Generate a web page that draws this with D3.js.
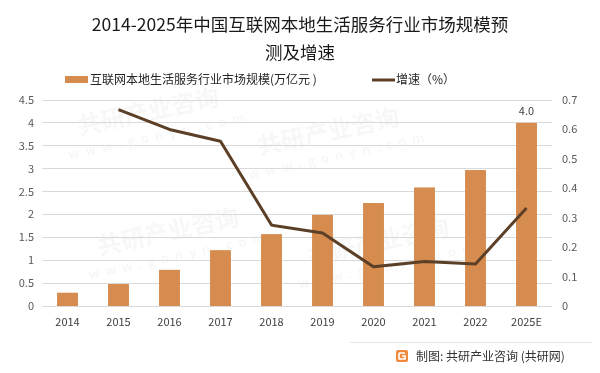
<!DOCTYPE html>
<html><head><meta charset="utf-8">
<script src="https://cdn.jsdelivr.net/npm/d3@7"></script>
<style>body{margin:0;background:#fff}svg{display:block}</style>
</head><body><div id="c"></div>
<script>
const categories = ["2014","2015","2016","2017","2018","2019","2020","2021","2022","2025E"];
const marketSize = [0.29,0.48,0.79,1.22,1.57,1.99,2.25,2.59,2.97,4.0];
const growth = [null,0.667,0.60,0.56,0.275,0.248,0.133,0.151,0.143,0.333];
const leftTicks = [0,0.5,1,1.5,2,2.5,3,3.5,4,4.5];
const rightTicks = [0,0.1,0.2,0.3,0.4,0.5,0.6,0.7];
const titleLines = ["2014-2025年中国互联网本地生活服务行业市场规模预","测及增速"];
const legendLabels = ["互联网本地生活服务行业市场规模(万亿元 )","增速（%）"];
const sourceText = "制图: 共研产业咨询 (共研网)";

const W=600,H=373;
const font='"Noto Sans CJK SC","Noto Sans",sans-serif';
const svg=d3.select("#c").append("svg").attr("width",W).attr("height",H).style("font-family",font);
svg.append("rect").attr("width",W).attr("height",H).attr("fill","#fff");

// watermarks (faint)
const wm=svg.append("g").attr("fill","#000").attr("opacity",0.035).style("font-weight","bold");
[[150,120],[330,140],[170,240],[380,250]].forEach(([x,y])=>{
  wm.append("text").attr("transform",`translate(${x},${y}) rotate(-12)`).attr("text-anchor","middle").attr("font-size",24).text("共研产业咨询");
  wm.append("text").attr("transform",`translate(${x+10},${y+20}) rotate(-12)`).attr("text-anchor","middle").attr("font-size",13).attr("letter-spacing","6px").text("www.gonyn.com");
});

const x=d3.scaleBand().domain(categories).range([42,552]).paddingInner(0.59).paddingOuter(0.295);
const yL=d3.scaleLinear().domain([0,4.5]).range([306,100]);
const yR=d3.scaleLinear().domain([0,0.7]).range([306,100]);

// gridlines
svg.append("g").selectAll("line").data(leftTicks).join("line")
  .attr("x1",42).attr("x2",552).attr("y1",d=>yL(d)).attr("y2",d=>yL(d))
  .attr("stroke","#d9d9d9").attr("stroke-width",1).attr("shape-rendering","crispEdges");

// left axis
const gl=svg.append("g").attr("transform","translate(34,0)")
  .call(d3.axisLeft(yL).tickValues(leftTicks).tickSize(0).tickPadding(0).tickFormat(d=>String(d)));
gl.select(".domain").remove();
gl.selectAll("text").attr("fill","#595959").attr("font-size",11).style("font-family",font);

// right axis
const gr=svg.append("g").attr("transform","translate(562,0)")
  .call(d3.axisRight(yR).tickValues(rightTicks).tickSize(0).tickPadding(0).tickFormat(d=>String(d)));
gr.select(".domain").remove();
gr.selectAll("text").attr("fill","#595959").attr("font-size",11).style("font-family",font);

// x axis
const gx=svg.append("g").attr("transform","translate(0,316)")
  .call(d3.axisBottom(x).tickSize(0).tickPadding(0));
gx.select(".domain").remove();
gx.selectAll("text").attr("fill","#404040").attr("font-size",11).attr("dy","0.9em").style("font-family",font);

// bars
svg.append("g").selectAll("rect").data(categories).join("rect")
  .attr("x",d=>x(d)).attr("width",x.bandwidth())
  .attr("y",(d,i)=>yL(marketSize[i])).attr("height",(d,i)=>yL(0)-yL(marketSize[i]))
  .attr("fill","#D68C4E");

// data label
const li=categories.length-1;
svg.append("text").attr("x",x(categories[li])+x.bandwidth()/2).attr("y",yL(marketSize[li])-8)
  .attr("text-anchor","middle").attr("font-size",11).attr("fill","#404040").text(marketSize[li].toFixed(1));

// line
const line=d3.line().defined(d=>d[1]!=null).x(d=>x(d[0])+x.bandwidth()/2).y(d=>yR(d[1]));
svg.append("path").datum(categories.map((c,i)=>[c,growth[i]])).attr("d",line)
  .attr("fill","none").attr("stroke","#5C3F27").attr("stroke-width",3).attr("stroke-linejoin","round");

// title
svg.append("g").selectAll("text").data(titleLines).join("text")
  .attr("x",300).attr("y",(d,i)=>31+i*28).attr("text-anchor","middle")
  .attr("font-size",17.5).attr("fill","#1a1a1a").text(d=>d);

// legend
svg.append("rect").attr("x",65).attr("y",76).attr("width",23).attr("height",7).attr("fill","#D68C4E");
svg.append("text").attr("x",90).attr("y",84).attr("font-size",12).attr("fill","#262626").text(legendLabels[0]);
svg.append("line").attr("x1",372).attr("x2",395).attr("y1",80).attr("y2",80).attr("stroke","#5C3F27").attr("stroke-width",3);
svg.append("text").attr("x",396).attr("y",84).attr("font-size",12).attr("fill","#262626").text(legendLabels[1]);

// footer
svg.append("line").attr("x1",350).attr("x2",592).attr("y1",342.5).attr("y2",342.5).attr("stroke","#e6e6e6");
const logo=svg.append("g").attr("transform","translate(396,350)");
logo.append("rect").attr("width",12).attr("height",12).attr("rx",2).attr("fill","#F08A3C");
logo.append("path").attr("d","M3,3 H9 M3,3 V9 H9 V6 H6").attr("stroke","#fff").attr("stroke-width",1.6).attr("fill","none");
svg.append("text").attr("x",416).attr("y",361).attr("font-size",12).attr("fill","#333").text(sourceText);
</script></body></html>
